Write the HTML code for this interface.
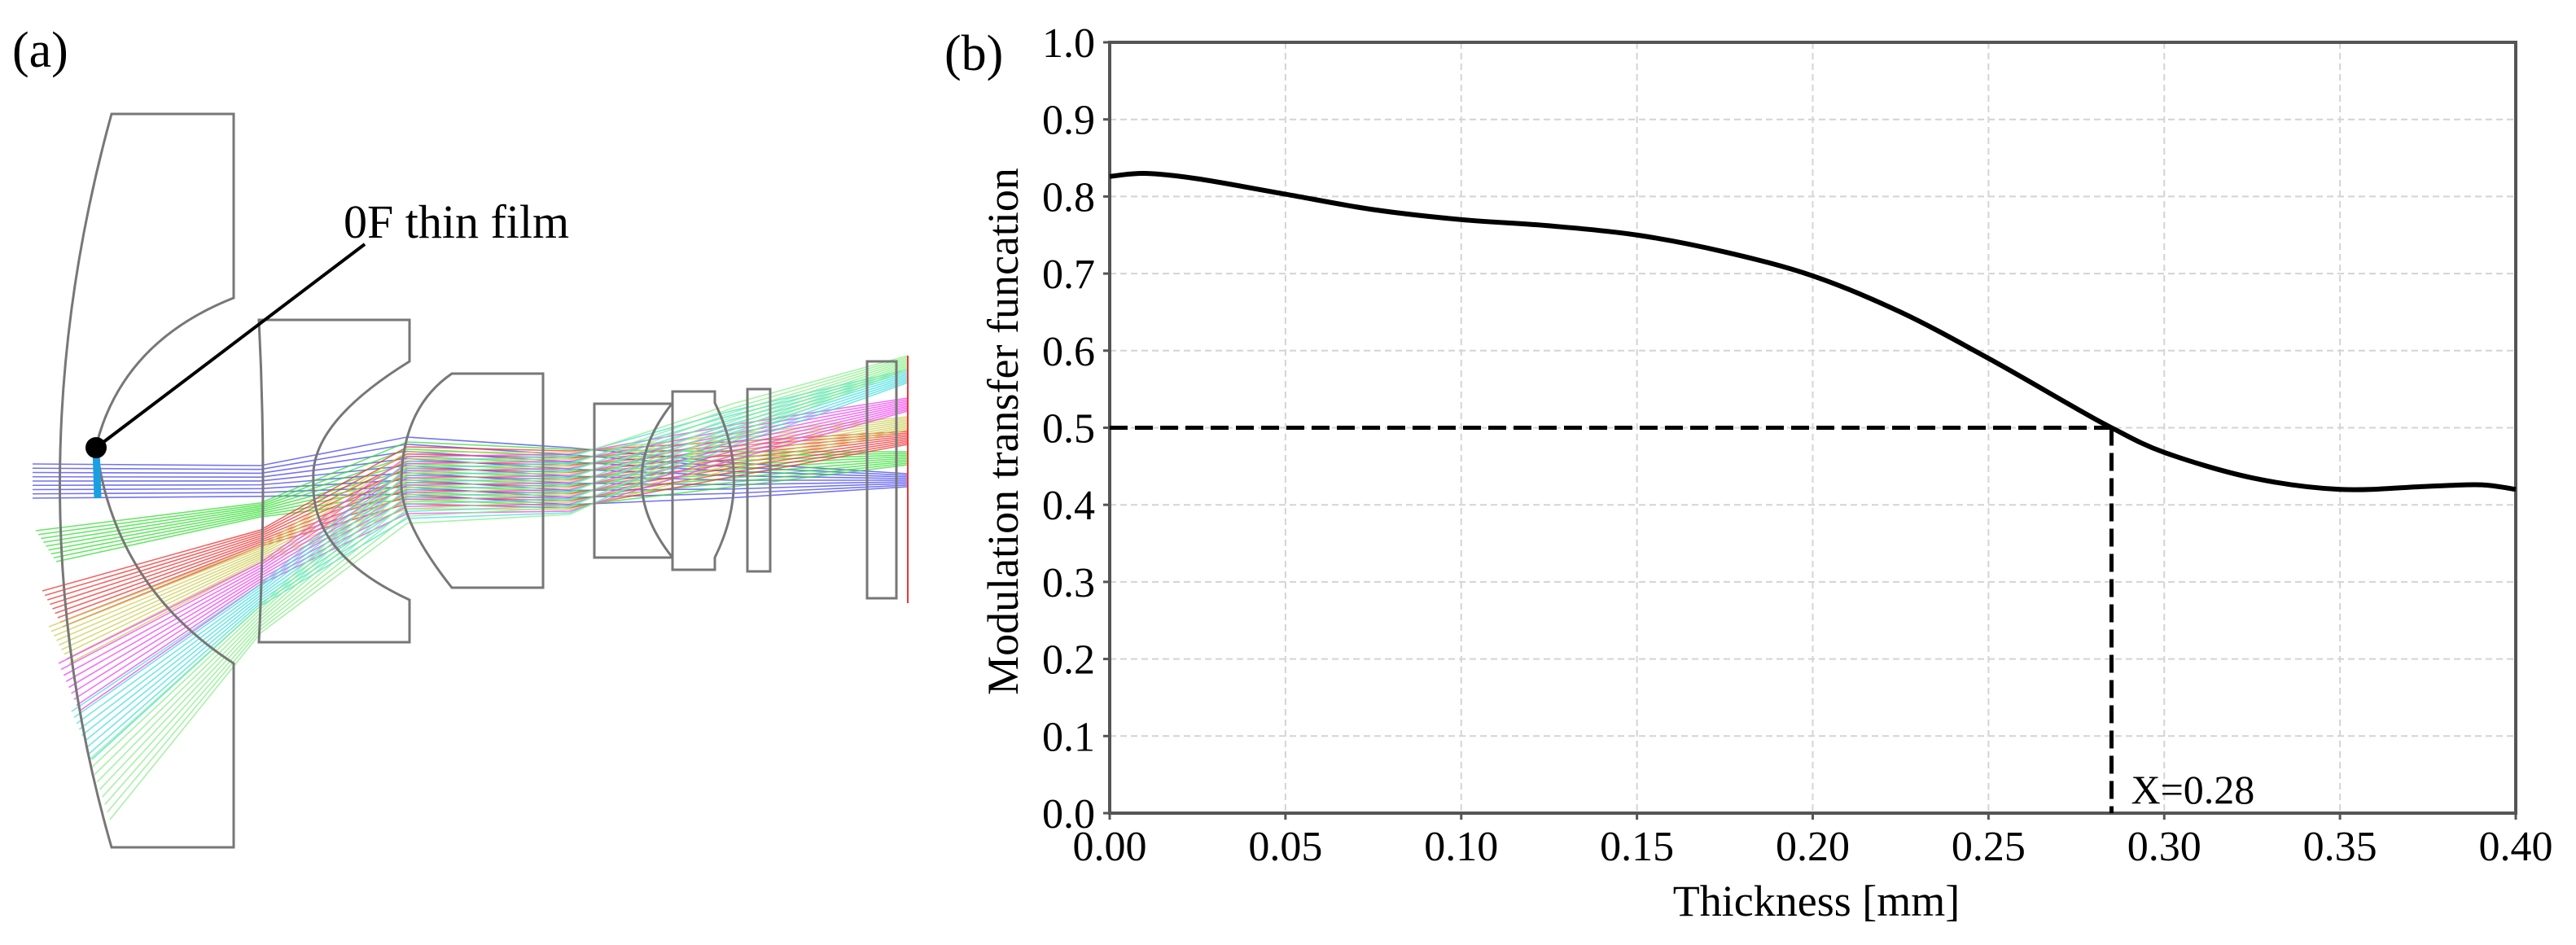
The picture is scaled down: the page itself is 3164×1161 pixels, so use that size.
<!DOCTYPE html>
<html><head><meta charset="utf-8">
<style>
html,body{margin:0;padding:0;background:#fff;}
svg{display:block;font-family:"Liberation Serif",serif;}
</style></head>
<body>
<svg id="fig" width="3164" height="1161" viewBox="0 0 3164 1161" xmlns="http://www.w3.org/2000/svg">
  <g id="panelA">
    <text x="15" y="82" font-size="62">(a)</text>
    <g id="rays"></g>
    <g fill="none" stroke="#777" stroke-width="3">
      <path d="M137,140 L287,140 L287,366 Q150,420 118,548 Q140,720 287,815 L287,1041 L137,1041 Q10,600 137,140 Z"/>
      <path d="M318,393 L503,393 L503,444 Q380,520 385,590 Q380,680 503,737 L503,789 L318,789 Q328,590 318,393 Z"/>
      <path d="M555,459 L667,459 L667,722 L555,722 Q490,640 493,589 Q495,500 555,459 Z"/>
      <path d="M730,496 L826,496 L826,685 L730,685 Z"/>
      <path d="M826,481 L878,481 L878,495 Q925,590 878,685 L878,700 L826,700 L826,685 Q750,590 826,495 Z"/>
      <rect x="918" y="478" width="28" height="224"/>
      <rect x="1065" y="444" width="36" height="291"/>
    </g>
    <line x1="1115" y1="437" x2="1115" y2="741" stroke="#e33" stroke-width="2"/>
    <line x1="118" y1="550" x2="120" y2="612" stroke="#1aa0e0" stroke-width="9"/>
    <line x1="118" y1="550" x2="448" y2="300" stroke="#000" stroke-width="4"/>
    <circle cx="118" cy="550" r="13" fill="#000"/>
    <text x="422" y="292" font-size="58">0F thin film</text>
  </g>

  <g id="panelB">
    <text x="1160" y="86" font-size="62">(b)</text>
    <g id="grid"></g>
    <g id="axes"></g>
    <g id="series"></g>
    <text x="2231" y="1125" font-size="54" text-anchor="middle">Thickness [mm]</text>
    <text transform="translate(1250,530) rotate(-90)" font-size="54" text-anchor="middle">Modulation transfer funcation</text>
  </g>
</svg>
<script>
// ---- chart data ----
const thickness = [0, 0.01, 0.025, 0.05, 0.075, 0.1, 0.125, 0.15, 0.175, 0.2, 0.225, 0.25, 0.275, 0.285, 0.3, 0.325, 0.35, 0.375, 0.39, 0.4];
const mtf = [0.826, 0.830, 0.823, 0.803, 0.783, 0.770, 0.762, 0.750, 0.728, 0.697, 0.650, 0.590, 0.525, 0.500, 0.468, 0.435, 0.420, 0.424, 0.426, 0.420];
const xTicks = ["0.00","0.05","0.10","0.15","0.20","0.25","0.30","0.35","0.40"];
const yTicks = ["0.0","0.1","0.2","0.3","0.4","0.5","0.6","0.7","0.8","0.9","1.0"];
const markX = [0.285];
const markY = [0.5];
const markLabel = ["X=0.28"];

const NS = "http://www.w3.org/2000/svg";
const L = 1363, R = 3090, T = 52, B = 999;
const xMin = 0, xMax = 0.4, yMin = 0, yMax = 1.0;
function sx(v){ return L + (v - xMin) / (xMax - xMin) * (R - L); }
function sy(v){ return B - (v - yMin) / (yMax - yMin) * (B - T); }
function mk(tag, attrs, parent){
  const e = document.createElementNS(NS, tag);
  for (const k in attrs) e.setAttribute(k, attrs[k]);
  parent.appendChild(e);
  return e;
}
const grid = document.getElementById('grid');
const axes = document.getElementById('axes');
const series = document.getElementById('series');

xTicks.forEach(t => {
  const x = sx(parseFloat(t));
  const g = mk('line', {x1:x, x2:x, y1:T, y2:B, stroke:'#d4d4d4', 'stroke-width':2, 'stroke-dasharray':'8 5'}, grid);
  
  
  const tk = mk('line', {x1:x, x2:x, y1:B, y2:B+8, stroke:'#555', 'stroke-width':3}, axes);
  
  
  const tx = mk('text', {x:x, y:B+58, 'font-size':52, 'text-anchor':'middle'}, axes);
  tx.textContent = t;
  
  
});
yTicks.forEach(t => {
  const y = sy(parseFloat(t));
  const g = mk('line', {x1:L, x2:R, y1:y, y2:y, stroke:'#d4d4d4', 'stroke-width':2, 'stroke-dasharray':'8 5'}, grid);
  
  
  const tk = mk('line', {x1:L-8, x2:L, y1:y, y2:y, stroke:'#555', 'stroke-width':3}, axes);
  
  
  const tx = mk('text', {x:L-18, y:y+18, 'font-size':52, 'text-anchor':'end'}, axes);
  tx.textContent = t;
  
  
});
const frame = mk('rect', {x:L, y:T, width:R-L, height:B-T, fill:'none', stroke:'#555', 'stroke-width':4}, axes);



// smooth curve (Catmull-Rom)
const pts = thickness.map((t,i)=>[sx(t), sy(mtf[i])]);
let d = 'M' + pts[0][0] + ',' + pts[0][1];
for (let i=0;i<pts.length-1;i++){
  const p0 = pts[Math.max(0,i-1)], p1 = pts[i], p2 = pts[i+1], p3 = pts[Math.min(pts.length-1,i+2)];
  const c1 = [p1[0]+(p2[0]-p0[0])/6, p1[1]+(p2[1]-p0[1])/6];
  const c2 = [p2[0]-(p3[0]-p1[0])/6, p2[1]-(p3[1]-p1[1])/6];
  d += ' C'+c1[0]+','+c1[1]+' '+c2[0]+','+c2[1]+' '+p2[0]+','+p2[1];
}
const curve = mk('path', {d:d, fill:'none', stroke:'#000', 'stroke-width':6, 'stroke-linejoin':'round'}, series);



const hl = mk('line', {x1:L, x2:sx(markX[0]), y1:sy(markY[0]), y2:sy(markY[0]), stroke:'#000', 'stroke-width':5, 'stroke-dasharray':'22 9'}, series);


const vl = mk('line', {x1:sx(markX[0]), x2:sx(markX[0]), y1:sy(markY[0]), y2:B, stroke:'#000', 'stroke-width':5, 'stroke-dasharray':'22 9'}, series);


const ml = mk('text', {x:sx(markX[0])+24, y:B-12, 'font-size':50}, series);
ml.textContent = markLabel[0];



// ---- ray bundles (illustrative) ----
const rays = document.getElementById('rays');
const bundles = [
  {c:'#4444ee', y0:570, y1:612, x0:40, yi:590},
  {c:'#33dd33', y0:652, y1:690, x0:44, yi:563},
  {c:'#ee3333', y0:726, y1:770, x0:52, yi:538},
  {c:'#cccc55', y0:770, y1:815, x0:60, yi:520},
  {c:'#ee44ee', y0:815, y1:874, x0:72, yi:497},
  {c:'#44dddd', y0:874, y1:933, x0:88, yi:462},
  {c:'#88ee88', y0:933, y1:1007, x0:110, yi:445}
];
bundles.forEach((b, bi) => {
  const n = 9;
  for (let k=0;k<n;k++){
    const f = k/(n-1);
    const y0 = b.y0 + f*(b.y1-b.y0);
    const x0 = b.x0 + f*(bi===0?0:25);
    const ym = (bi===0) ? y0 : (y0 + (590 - y0)*0.55);
    const ys = 555 + f*70;
    const ye = b.yi - 8 + f*16;
    const p = mk('polyline', {points: x0+','+y0+' 320,'+(bi===0?y0+ (590-y0)*0.1:ym)+' 500,'+(ys+ (bi-3)*6)+' 700,'+(ys-5+bi*2)+' 900,'+(ys*0.5+ye*0.5)+' 1115,'+ye,
      fill:'none', stroke:b.c, 'stroke-width':1.6, 'stroke-opacity':0.75}, rays);
    
    
  }
});
</script>
</body></html>
